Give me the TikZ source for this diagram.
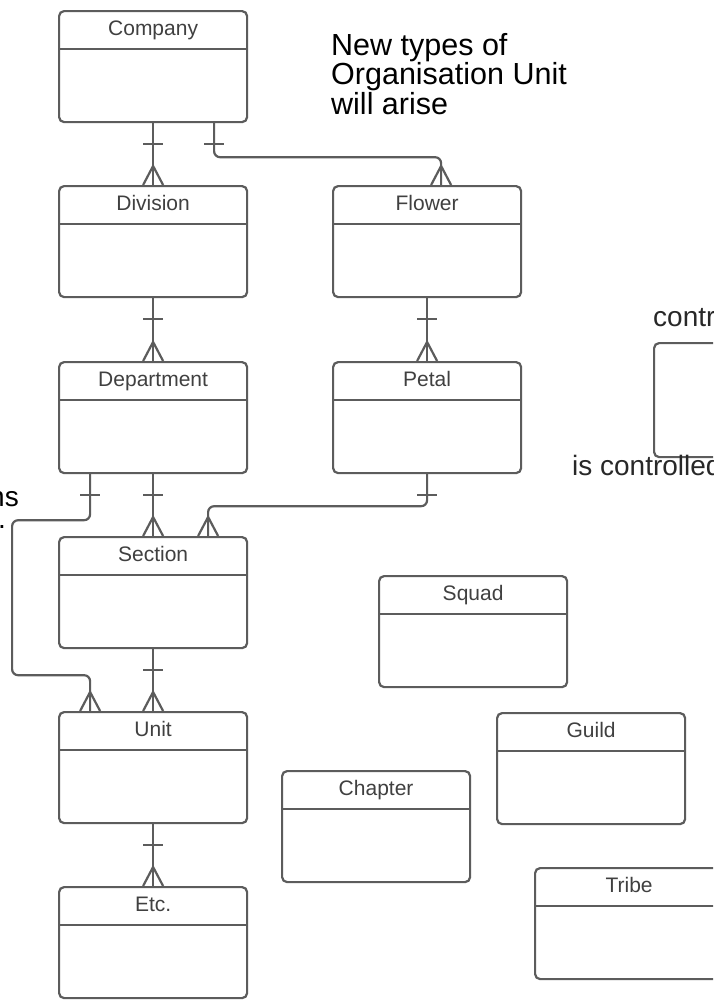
\documentclass[tikz,border=0pt]{standalone}
\usepackage{fontspec}
\setmainfont{Liberation Sans}
\definecolor{linegray}{RGB}{92,92,92}
\definecolor{labelgray}{RGB}{64,64,64}
\definecolor{notegray}{RGB}{40,40,40}
\begin{document}
\begin{tikzpicture}[x=1pt, y=-1pt,
    entity/.style={draw=linegray, line width=2.2pt, rounded corners=5pt, anchor=north west,
      minimum width=188pt, minimum height=111pt, inner xsep=0pt, inner ysep=0pt,
      text height=24pt, text depth=87pt, text=labelgray, font=\fontsize{21}{24}\selectfont,
      path picture={\draw[linegray, line width=2.2pt] ([yshift=-38pt]path picture bounding box.north west) -- ([yshift=-38pt]path picture bounding box.north east);}},
    rel/.style={draw=linegray, line width=2.2pt, rounded corners=6pt},
    note/.style={font=\fontsize{28}{29}\selectfont, inner sep=0pt, align=left},
    crow/.pic={\draw[rel, sharp corners] (-10,0) -- (0,-19) -- (10,0);},
    onebar/.pic={\draw[rel] (-10,0) -- (10,0);}]
    \useasboundingbox (0,0) rectangle (713,1001);
    \clip (0,0) rectangle (713,1001);
    \fill[white] (0,0) rectangle (713,1001);
    % entities
    \node[entity] (company) at (58,10) {Company};
    \node[entity] (division) at (58,185) {Division};
    \node[entity] (department) at (58,361) {Department};
    \node[entity] (section) at (58,536) {Section};
    \node[entity] (unit) at (58,711) {Unit};
    \node[entity] (etc) at (58,886) {Etc.};
    \node[entity] (flower) at (332,185) {Flower};
    \node[entity] (petal) at (332,361) {Petal};
    \node[entity] (squad) at (378,575) {Squad};
    \node[entity] (guild) at (496,712) {Guild};
    \node[entity] (chapter) at (281,770) {Chapter};
    \node[entity] (tribe) at (534,867) {Tribe};
    \node[draw=linegray, line width=2.2pt, rounded corners=5pt, anchor=north west, minimum width=188pt, minimum height=114pt] (ctrl) at (653,342) {};
    % notes
    \node[note, anchor=north west, font=\fontsize{30.5}{29.5}\selectfont] (newtypes) at (331,33) {New types of\\Organisation Unit\\will arise};
    \node[note, anchor=base west, text=notegray] (controls) at (653,326) {contr};
    \node[note, anchor=base west, text=notegray] (controlled) at (572,475) {is controlled};
    \node[note, anchor=base east] (leftnote) at (19,506) {ns};
    \node[note, anchor=base east] (leftdot) at (6,528) {.};
    % relationships
    \draw[rel] (company.south) -- (division.north);
    \draw[rel] ([xshift=61pt]company.south) -- ++(0,34) -| ([xshift=14pt]flower.north);
    \draw[rel] (division.south) -- (department.north);
    \draw[rel] (flower.south) -- (petal.north);
    \draw[rel] (department.south) -- (section.north);
    \draw[rel] ([xshift=-63pt]department.south) -- ++(0,46) -| ++(-78,155) -| ([xshift=-63pt]unit.north);
    \draw[rel] (petal.south) -- ++(0,32) -| ([xshift=55pt]section.north);
    \draw[rel] (section.south) -- (unit.north);
    \draw[rel] (unit.south) -- (etc.north);
    % one ends
    \pic at ([yshift=-21pt]company.south) {onebar};
    \pic at ([xshift=61pt, yshift=-21pt]company.south) {onebar};
    \pic at ([yshift=-21pt]division.south) {onebar};
    \pic at ([yshift=-21pt]flower.south) {onebar};
    \pic at ([yshift=-21pt]department.south) {onebar};
    \pic at ([xshift=-63pt, yshift=-21pt]department.south) {onebar};
    \pic at ([yshift=-21pt]petal.south) {onebar};
    \pic at ([yshift=-21pt]section.south) {onebar};
    \pic at ([yshift=-21pt]unit.south) {onebar};
    % many ends
    \pic at (division.north) {crow};
    \pic at ([xshift=14pt]flower.north) {crow};
    \pic at (department.north) {crow};
    \pic at (petal.north) {crow};
    \pic at (section.north) {crow};
    \pic at ([xshift=55pt]section.north) {crow};
    \pic at (unit.north) {crow};
    \pic at ([xshift=-63pt]unit.north) {crow};
    \pic at (etc.north) {crow};
\end{tikzpicture}
\end{document}
